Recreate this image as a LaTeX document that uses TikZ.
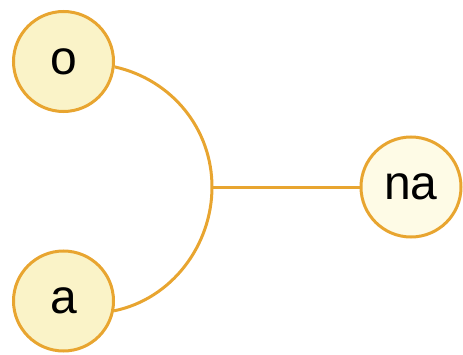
\documentclass[tikz,border=0pt]{standalone}
\usepackage{fontspec}
\setmainfont{Liberation Sans}
\usetikzlibrary{positioning}
\definecolor{bubbleedge}{RGB}{232,165,48}
\definecolor{bubblefill}{RGB}{250,243,200}
\definecolor{headfill}{RGB}{254,251,230}
\tikzset{
  bubble/.style={circle,draw=bubbleedge,fill=bubblefill,line width=3pt,
                 minimum size=100pt,inner sep=0pt,text=black,
                 font=\fontsize{48}{52}\selectfont},
  headbubble/.style={bubble,fill=headfill},
  link/.style={draw=bubbleedge,line width=3pt},
}
\begin{document}
\begin{tikzpicture}[x=1pt,y=1pt]
  \useasboundingbox (0,0) rectangle (463,354);
  \node[bubble] (o) at (63.5,292.5) {o};
  \node[bubble] (a) at (63.5,53) {a};
  \node[headbubble] (na) at (411,167) {na};
  \coordinate (j) at (212,167);
  % round arc joining o and a
  \draw[link] (o.-6) .. controls (173,274) and (212,224) .. (j)
    .. controls (212,109) and (172,55) .. (a.-11);
  \draw[link] (j) -- (na);
\end{tikzpicture}
\end{document}
